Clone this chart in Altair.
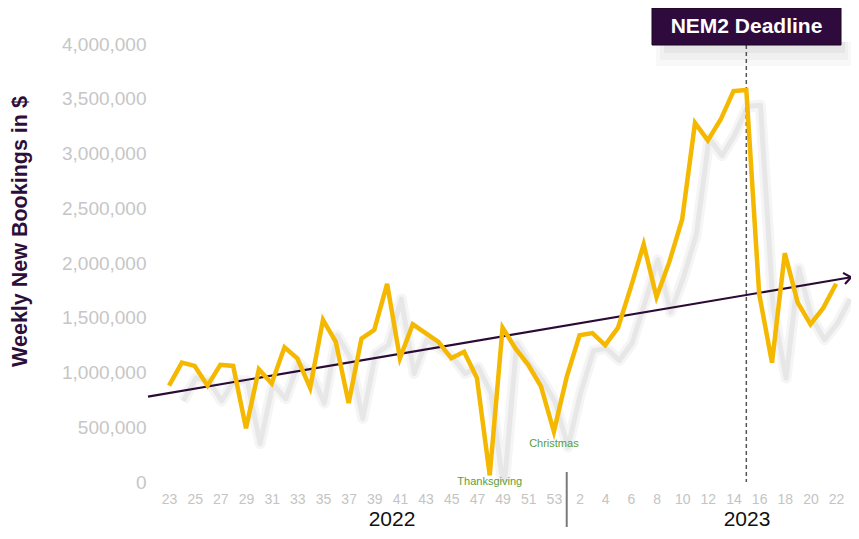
import json
import altair as alt
import pandas as pd

# ---- data ----
weeks_2022 = [23, 24, 25, 26, 27, 28, 29, 30, 31, 32, 33, 34, 35, 36, 37, 38,
              39, 40, 41, 42, 43, 44, 45, 46, 47, 48, 49, 50, 51, 52, 53]
values_2022 = [880000, 1090000, 1060000, 880000, 1070000, 1060000, 490000,
               1030000, 900000, 1230000, 1130000, 860000, 1480000, 1280000,
               720000, 1310000, 1390000, 1810000, 1130000, 1440000, 1360000,
               1280000, 1130000, 1190000, 950000, 60000, 1410000, 1220000,
               1070000, 870000, 460000]
weeks_2023 = [1, 2, 3, 4, 5, 6, 7, 8, 9, 10, 11, 12, 13, 14, 15, 16, 17, 18,
              19, 20, 21, 22]
values_2023 = [960000, 1340000, 1360000, 1250000, 1410000, 1780000, 2170000,
               1690000, 2010000, 2400000, 3280000, 3120000, 3310000, 3570000,
               3580000, 1720000, 1090000, 2090000, 1640000, 1440000, 1590000,
               1810000]
y_ticks = [0, 500000, 1000000, 1500000, 2000000, 2500000, 3000000, 3500000,
           4000000]
x_domain = [-1.64, 53.16]
trend_x = [-1.64, 53.16]
trend_y = [780000, 1870000]
deadline_week_2023 = 15
annotations = [("Thanksgiving", 2022, 48), ("Christmas", 2022, 53)]
title_text = "NEM2 Deadline"
y_title = "Weekly New Bookings in $"

# ---- tables ----
labels = [str(w) for w in weeks_2022] + [str(w) for w in weeks_2023]
df = pd.DataFrame({
    "idx": list(range(len(labels))),
    "week": labels,
    "value": values_2022 + values_2023,
})
n22 = len(weeks_2022)
deadline_idx = n22 + weeks_2023.index(deadline_week_2023)
trend_df = pd.DataFrame({"idx": trend_x, "value": trend_y})
arrow_df = trend_df.iloc[[-1]]
one = pd.DataFrame({"a": [0]})


def ann_idx(year, week):
    return weeks_2022.index(week) if year == 2022 else n22 + weeks_2023.index(week)


ann_df = pd.DataFrame({"idx": [ann_idx(y, w) for _, y, w in annotations],
                       "label": [t for t, _, _ in annotations]})

W, H = 703, 438
xscale = alt.Scale(domain=x_domain, nice=False, zero=False)
yscale = alt.Scale(domain=[y_ticks[0], y_ticks[-1]], nice=False)

label_expr = json.dumps(labels) + "[datum.value]"
xaxis = alt.Axis(values=list(range(0, len(labels), 2)), labelExpr=label_expr,
                 title=None, domain=False, ticks=False, tickSize=0, grid=False,
                 labelColor="#c4c4c4", labelFontSize=14, labelPadding=10,
                 labelFont="Liberation Sans")
yaxis = alt.Axis(values=y_ticks, format=",d", title=None, domain=False,
                 ticks=False, tickSize=0, grid=False, labelColor="#c6c6c6",
                 labelFontSize=19, labelPadding=2, labelFont="Liberation Sans")

X = alt.X("idx:Q", scale=xscale, axis=xaxis)
Y = alt.Y("value:Q", scale=yscale, axis=yaxis)


def shadow_layer(width, opacity):
    return alt.Chart(df).transform_calculate(
        sx="datum.idx + 1.1", sy="datum.value - 140000"
    ).mark_line(color="#cfcfcf", strokeWidth=width, opacity=opacity,
                clip=True, strokeJoin="round").encode(
        x=alt.X("sx:Q", scale=xscale, axis=xaxis),
        y=alt.Y("sy:Q", scale=yscale, axis=yaxis),
        order="idx:Q",
    )


shadow_wide = shadow_layer(11, 0.2)
shadow_core = shadow_layer(5, 0.35)

trend = alt.Chart(trend_df).mark_line(color="#2b0b36", strokeWidth=2.2).encode(x=X, y=Y)
arrow = alt.Chart(arrow_df).mark_point(
    shape="M-1,-0.8L0,0L-1,0.8", filled=False, size=200, strokeWidth=2.2,
    color="#2b0b36", angle=350, opacity=1
).encode(x=X, y=Y)

dash = alt.Chart(pd.DataFrame({"idx": [deadline_idx]})).mark_rule(
    color="#555555", strokeDash=[4, 3], strokeWidth=1.5
).encode(x=X, y=alt.value(1), y2=alt.value(H))

line = alt.Chart(df).mark_line(color="#f5b800", strokeWidth=4.5).encode(
    x=X, y=Y, order="idx:Q")

thanks = alt.Chart(ann_df.iloc[[0]]).mark_text(
    color="#5a9e3a", fontSize=11, font="Liberation Sans", baseline="middle"
).encode(x=X, y=alt.value(H), text="label:N")
xmas = alt.Chart(ann_df.iloc[[1]]).mark_text(
    color="#5a9e3a", fontSize=11, font="Liberation Sans", baseline="middle"
).encode(x=X, y=alt.value(400), text="label:N")

box_shadows = [
    alt.Chart(one).mark_rect(color="#bdbdbd", opacity=0.10).encode(
        x=alt.value(508), x2=alt.value(703), y=alt.value(-2), y2=alt.value(22)),
    alt.Chart(one).mark_rect(color="#bdbdbd", opacity=0.14).encode(
        x=alt.value(512), x2=alt.value(700), y=alt.value(-2), y2=alt.value(16)),
    alt.Chart(one).mark_rect(color="#bdbdbd", opacity=0.18).encode(
        x=alt.value(516), x2=alt.value(697), y=alt.value(-2), y2=alt.value(9)),
]
box = alt.Chart(one).mark_rect(color="#2f0a3d", stroke="#1a0522", strokeWidth=1).encode(
    x=alt.value(504), x2=alt.value(693), y=alt.value(-36), y2=alt.value(1))
box_text = alt.Chart(one).mark_text(
    text=title_text, color="white", fontSize=21, fontWeight="bold",
    font="Liberation Sans", baseline="middle", align="center"
).encode(x=alt.value(598.5), y=alt.value(-17))

sep = alt.Chart(pd.DataFrame({"idx": [n22]})).mark_rule(
    color="#7a7a7a", strokeWidth=2
).encode(x=X, y=alt.value(428), y2=alt.value(483))
y2022 = alt.Chart(one).mark_text(
    text="2022", fontSize=21, color="#111111", font="Liberation Sans",
    baseline="alphabetic").encode(x=alt.value(244), y=alt.value(482))
y2023 = alt.Chart(one).mark_text(
    text="2023", fontSize=21, color="#111111", font="Liberation Sans",
    baseline="alphabetic").encode(x=alt.value(599), y=alt.value(482))

ytitle = alt.Chart(one).mark_text(
    text=y_title, fontSize=21.5, fontWeight="bold", color="#2e0f3a",
    font="Liberation Sans", angle=270, baseline="middle", align="center"
).encode(x=alt.value(-127.5), y=alt.value(187.5))

chart = alt.layer(
    *box_shadows, shadow_wide, shadow_core, trend, arrow, dash, line, thanks,
    xmas, box, box_text, sep, y2022, y2023, ytitle
).properties(
    width=W, height=H,
    padding={"left": 140, "top": 36, "right": 0, "bottom": 49},
    autosize=alt.AutoSizeParams(type="none"),
).configure(font="Liberation Sans", view=alt.ViewConfig(strokeWidth=0, stroke=None))

chart.save("out.html", embed_options={"renderer": "svg", "actions": False})
